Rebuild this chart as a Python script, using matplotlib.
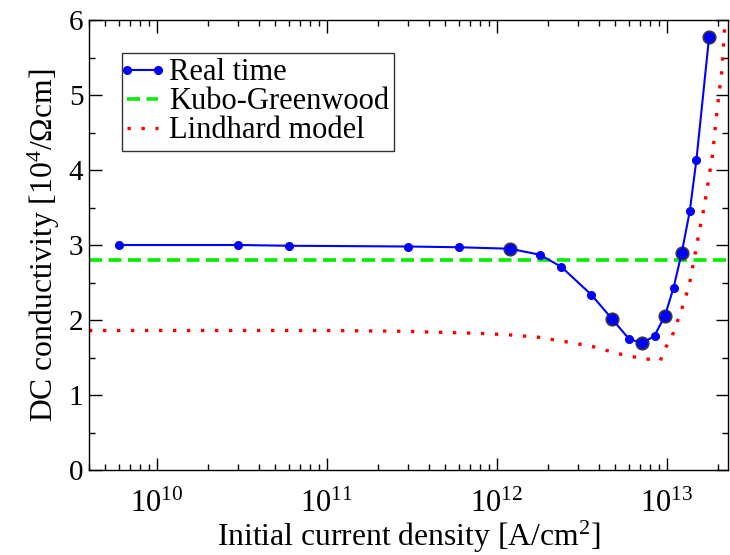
import numpy as np
import matplotlib
matplotlib.use("Agg")
import matplotlib.pyplot as plt
from matplotlib.legend_handler import HandlerLine2D
from matplotlib.ticker import LogLocator, MultipleLocator, NullFormatter

plt.rcParams['font.family'] = ['Liberation Serif', 'DejaVu Serif']
plt.rcParams['mathtext.fontset'] = 'custom'
plt.rcParams['mathtext.rm'] = 'Liberation Serif'
plt.rcParams['mathtext.it'] = 'Liberation Serif:italic'

# real-time simulation: initial current density [A/cm^2] vs DC conductivity [1e4 / Ohm cm]
rt_j = [6e9, 3e10, 6e10, 3e11, 6e11, 1.2e12, 1.8e12, 2.4e12, 3.6e12, 4.8e12,
        6e12, 7.2e12, 8.5e12, 9.8e12, 1.1e13, 1.23e13, 1.37e13, 1.5e13, 1.78e13]
rt_sigma = [3.00, 3.00, 2.99, 2.98, 2.97, 2.95, 2.87, 2.71, 2.34, 2.01,
            1.75, 1.69, 1.79, 2.06, 2.43, 2.90, 3.45, 4.14, 5.77]
circled = [5, 9, 11, 13, 15, 18]  # points drawn with an extra ring

kubo_sigma = 2.80

lind_j = [4e9, 1e10, 1e11, 2.8e11, 5.8e11, 8.4e11, 1.22e12, 1.77e12, 2.55e12, 3.62e12,
          5.22e12, 7.43e12, 8.85e12, 9.2e12, 9.87e12, 1.08e13, 1.22e13, 1.36e13, 1.5e13,
          1.61e13, 1.67e13, 1.77e13, 1.87e13, 1.94e13, 2.02e13, 2.11e13, 2.19e13, 2.25e13]
lind_sigma = [1.86, 1.86, 1.86, 1.85, 1.83, 1.82, 1.80, 1.77, 1.71, 1.65,
              1.55, 1.48, 1.47, 1.46, 1.63, 1.79, 2.12, 2.46, 2.98,
              3.34, 3.52, 3.88, 4.22, 4.59, 4.95, 5.30, 5.84, 6.20]

fig = plt.figure(figsize=(7.3, 5.55), dpi=100)
ax = fig.add_axes([89 / 730, 85 / 555, 639 / 730, 450 / 555])

lind_line, = ax.plot(lind_j, lind_sigma, color='#ff0000', lw=2.4, dashes=(1.0, 3.2),
                     label='Lindhard model', zorder=2)
kubo_line = ax.axhline(kubo_sigma, color='#00ee00', lw=2.6, dashes=(3.6, 1.8),
                       label='Kubo-Greenwood', zorder=2)
ax.plot([rt_j[i] for i in circled], [rt_sigma[i] for i in circled], 'o', ms=9,
        mfc='#0000ff', mec='#3a3a3a', mew=1.2, zorder=3)
rt_line, = ax.plot(rt_j, rt_sigma, '-o', color='#0000ff', lw=1.5, ms=5.5,
                   label='Real time', zorder=4)

ax.set_xscale('log')
ax.set_xlim(4e9, 2.3e13)
ax.set_ylim(0, 6)
ax.xaxis.set_major_locator(LogLocator(base=10, numticks=10))
ax.xaxis.set_minor_locator(LogLocator(base=10, subs=np.arange(2, 10), numticks=20))
ax.xaxis.set_minor_formatter(NullFormatter())
ax.yaxis.set_major_locator(MultipleLocator(1))
ax.yaxis.set_minor_locator(MultipleLocator(0.5))

ax.tick_params(which='both', direction='in', top=True, right=True, width=1)
ax.tick_params(which='major', length=9)
ax.tick_params(which='minor', length=4.5)
ax.tick_params(axis='x', which='major', labelsize=22, pad=14)
ax.tick_params(axis='y', which='major', labelsize=21, pad=4)
for s in ax.spines.values():
    s.set_linewidth(1)

ax.set_xlabel('Initial current density [A/cm$^2$]', fontsize=22.8, labelpad=0)
ax.set_ylabel('DC conductivity [10$^4$/\u03a9cm]', fontsize=22.8, labelpad=5)

hmap = {ln: HandlerLine2D(marker_pad=0) for ln in (rt_line, kubo_line, lind_line)}
leg = ax.legend([rt_line, kubo_line, lind_line],
                ['Real time', 'Kubo-Greenwood', 'Lindhard model'], loc='upper left',
                bbox_to_anchor=(0.0516, 0.9267), borderaxespad=0, fontsize=22,
                handlelength=1.0, handletextpad=0.35, labelspacing=0.0,
                borderpad=0.18, fancybox=False, frameon=True, numpoints=2,
                handler_map=hmap)
leg.get_frame().set_edgecolor('black')
leg.get_frame().set_linewidth(1)

fig.savefig('out.png', dpi=100)
